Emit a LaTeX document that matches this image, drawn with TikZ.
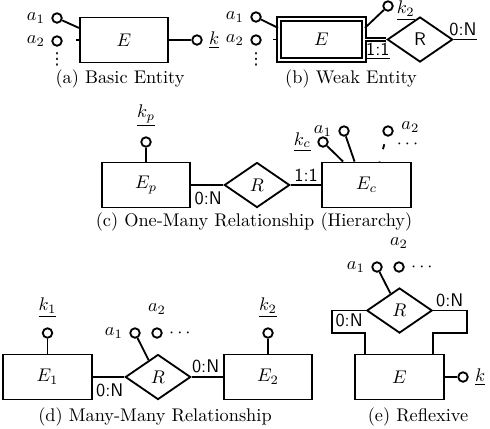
\documentclass[tikz,border=0pt]{standalone}
\usepackage{amsmath}
\usepackage{fontspec}
\usepackage{tikz}
\usetikzlibrary{shapes.geometric, positioning}

\newfontfamily\dotsfont{DejaVu Sans}
\newcommand{\attrdots}{{\dotsfont\fontsize{9}{9}\selectfont ⋮}}

\begin{document}
\begin{tikzpicture}[
    x=0.546pt, y=-0.546pt,
    entity/.style={rectangle, draw, line width=1pt, minimum width=48.2pt, minimum height=24.6pt, inner sep=0pt},
    weak/.style={entity, double, double distance=1pt, minimum width=46.5pt, minimum height=22.5pt},
    rel/.style={diamond, draw, line width=1pt, minimum width=35.7pt, minimum height=24.6pt, inner sep=0pt},
    attr/.style={circle, draw, line width=1pt, fill=white, minimum size=5.2pt, inner sep=0pt},
    card/.style={font=\sffamily, inner sep=1.5pt},
    line/.style={line width=1pt},
    caption/.style={inner sep=0pt}
]
\useasboundingbox (0,0) rectangle (490,428);

% Basic Entity
\node[entity] (ea) at (124,40) {$E$};
\node[attr, label=left:$a_1$] (ea1) at (57,18) {};
\node[attr, label=left:$a_2$] (ea2) at (57,41) {};
\node[inner sep=0pt] (eadots) at (57,59) {\attrdots};
\node[attr, label=right:$\underline{k}$] (eak) at (197,40) {};
\node[caption] (capa) at (120,79) {(a) Basic Entity};

\draw[line] (ea1) -- (ea.165);
\draw[line] (ea.west) -- ++(-3,0);
\draw[line] (ea) -- (eak);

% Weak Entity
\node[weak] (wb) at (321.5,39.5) {$E$};
\node[attr, label=left:$a_1$] (wb1) at (256,17) {};
\node[attr, label=left:$a_2$] (wb2) at (256,40) {};
\node[inner sep=0pt] (wbdots) at (256,59) {\attrdots};
\node[attr, label={[inner sep=1.5pt, yshift=-2.5pt]right:$\underline{k_2}$}] (wbk) at (388,6) {};
\node[rel, font=\sffamily] (rb) at (420,39.5) {R};
\coordinate (rbend) at (477,39.5);
\node[caption] (capb) at (351,79) {(b) Weak Entity};

\draw[line] (wb1) -- (wb.165);
\draw[line] (wb.west) -- ++(-5.5,0);
\draw[line] (wbk) -- (wb.15);
\draw[line, double, double distance=1pt] (wb.east) -- node[card, below, pos=0.6]{\underline{1:1}} (rb.west);
\draw[line] (rb.east) -- node[card, above, pos=0.4]{0:N} (rbend);

% One-Many Relationship
\node[entity] (ep) at (146,185) {$E_p$};
\node[attr, label={[label distance=2pt]above:$\underline{k_p}$}] (epk) at (146,142) {};
\node[rel] (rc) at (257,185) {$R$};
\node[entity] (ec) at (366.5,185) {$E_c$};
\node[attr, label=left:$\underline{k_c}$] (eck) at (323,142) {};
\node[attr, label=left:$a_1$] (ec1) at (344,131) {};
\node[attr, label={[inner sep=1pt, label distance=3pt, yshift=2pt]right:$a_2$}] (ec2) at (388,131) {};
\node[inner sep=0pt] (ecdots) at (409,144) {$\cdots$};
\node[caption] (capc) at (254,222) {(c) One-Many Relationship (Hierarchy)};

\draw[line] (epk) -- (ep);
\draw[line] (ep) -- node[card, pos=0, below right, yshift=-1.5pt]{0:N} (rc);
\draw[line] (rc) -- node[card, pos=1, above left]{1:1} (ec);
\draw[line] (eck) -- (ec.135);
\draw[line] (ec1) -- (ec.117);
\draw[line, dash pattern=on 0pt off 4.4pt on 2.8pt off 6.8pt on 2pt] (ec2) -- (ec.61);

% Many-Many Relationship
\node[entity] (e1) at (47.5,377) {$E_1$};
\node[attr, label={[label distance=2pt]above:$\underline{k_1}$}] (e1k) at (47.5,333) {};
\node[rel] (rd) at (158,377) {$R$};
\node[attr, label=left:$a_1$] (rd1) at (135,333) {};
\node[attr, label={[label distance=3.5pt]above:$a_2$}, label=right:$\cdots$] (rd2) at (157,333) {};
\node[entity] (e2) at (268,377) {$E_2$};
\node[attr, label={[label distance=2pt]above:$\underline{k_2}$}] (e2k) at (268,333) {};
\node[caption] (capd) at (155,417) {(d) Many-Many Relationship};

\draw[line] (e1k) -- (e1);
\draw[line] (e2k) -- (e2);
\draw[line] (rd1) -- (rd.119);
\draw[line] (e1) -- node[card, pos=0, below right, yshift=-1.5pt]{0:N} (rd);
\draw[line] (rd) -- node[card, pos=1, above left]{0:N} (e2);

% Reflexive
\node[entity] (ee) at (399.5,377) {$E$};
\node[attr, label=right:$\underline{k}$] (eek) at (463,377) {};
\node[rel] (re) at (399.5,310.5) {$R$};
\node[attr, label=left:$a_1$] (re1) at (377,267) {};
\node[attr, label={[label distance=3.5pt]above:$a_2$}, label=right:$\cdots$] (re2) at (399,267) {};
\node[caption] (cape) at (418,417) {(e) Reflexive};

\draw[line] (ee) -- (eek);
\draw[line] (re1) -- (re.118);
\draw[line] (re.west) -- ++(-34,0) node[card, below right]{0:N} -- ++(0,22.5) -| (ee.146);
\draw[line] (re.east) -- ++(34,0) node[card, above left]{0:N} -- ++(0,22.5) -| (ee.35);

\end{tikzpicture}
\end{document}
